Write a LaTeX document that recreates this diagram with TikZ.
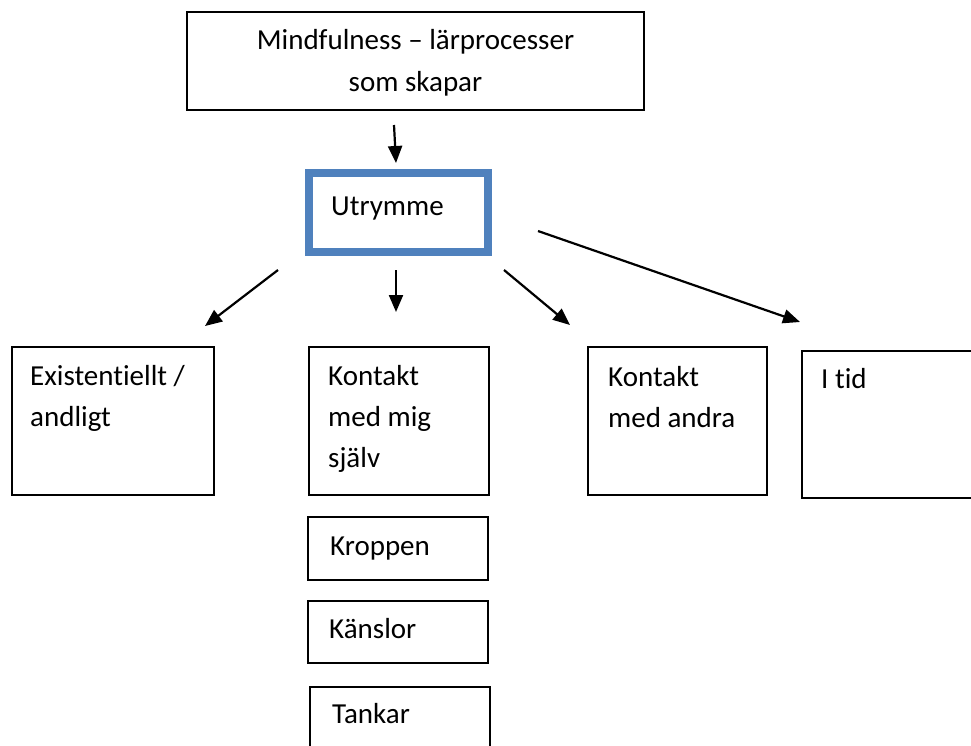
\documentclass[tikz,border=0pt]{standalone}
\usepackage{fontspec}
\setmainfont{Carlito}[Ligatures=NoCommon]
\usetikzlibrary{arrows.meta}
\definecolor{frameblue}{HTML}{4F81BD}
\begin{document}
\begin{tikzpicture}[x=1pt,y=-1pt,
  box/.style={draw=black, line width=1.8pt, anchor=north west, inner sep=0pt, outer sep=0pt},
  bluebox/.style={draw=frameblue, line width=8pt, anchor=north west, inner sep=0pt, outer sep=0pt},
  natural spaces/.style={execute at begin node={\spaceskip=\fontdimen2\font\xspaceskip=\fontdimen2\font\relax}},
  txt/.style={anchor=base west, inner sep=0pt, align=left, text width=175pt,
              font=\fontsize{29}{41}\selectfont, natural spaces},
  ctxt/.style={anchor=base, inner sep=0pt, align=center, text width=440pt,
               font=\fontsize{29}{42}\selectfont, natural spaces},
  arr/.style={line width=2.2pt, -{Triangle[length=17pt,width=14pt]}}]
\useasboundingbox (0,0) rectangle (971,745);
\clip (0,0) rectangle (971,745);

% boxes
\node[box, minimum width=457pt, minimum height=98pt] (top) at (187,12) {};
\node[bluebox, minimum width=179pt, minimum height=79pt] (utr) at (309,173) {};
\node[box, minimum width=202pt, minimum height=148pt] (ex) at (12,347) {};
\node[box, minimum width=180pt, minimum height=148pt] (kms) at (309,347) {};
\node[box, minimum width=179pt, minimum height=148pt] (kma) at (588,347) {};
\node[box, minimum width=200pt, minimum height=147pt] (tid) at (802,351) {};
\node[box, minimum width=180pt, minimum height=63pt] (kr) at (308,517) {};
\node[box, minimum width=180pt, minimum height=62pt] (ka) at (308,601) {};
\node[box, minimum width=180pt, minimum height=80pt] (ta) at (310,687) {};

% texts
\node[ctxt] (toptxt) at (415.5,49) {Mindfulness – lärprocesser\\som skapar};
\node[txt] (utrtxt) at (331,215) {Utrymme};
\node[txt] (extxt) at (30,385) {Existentiellt /\\andligt};
\node[txt] (kmstxt) at (328,385) {Kontakt\\med mig\\själv};
\node[txt] (kmatxt) at (608,386) {Kontakt\\med andra};
\node[txt] (tidtxt) at (821,388) {I tid};
\node[txt] (krtxt) at (330,555) {Kroppen};
\node[txt] (katxt) at (329,638) {Känslor};
\node[txt] (tatxt) at (332,723) {Tankar};

% arrow end points
\coordinate (a1s) at (394,125); \coordinate (a1e) at (396,163);
\coordinate (a2s) at (396,270); \coordinate (a2e) at (396,312);
\coordinate (a3s) at (278,270); \coordinate (a3e) at (205,326);
\coordinate (a4s) at (504,270); \coordinate (a4e) at (570,325);
\coordinate (a5s) at (538,231); \coordinate (a5e) at (800,322);

\draw[arr] (a1s) -- (a1e);
\draw[arr] (a2s) -- (a2e);
\draw[arr] (a3s) -- (a3e);
\draw[arr] (a4s) -- (a4e);
\draw[arr] (a5s) -- (a5e);
\end{tikzpicture}
\end{document}
